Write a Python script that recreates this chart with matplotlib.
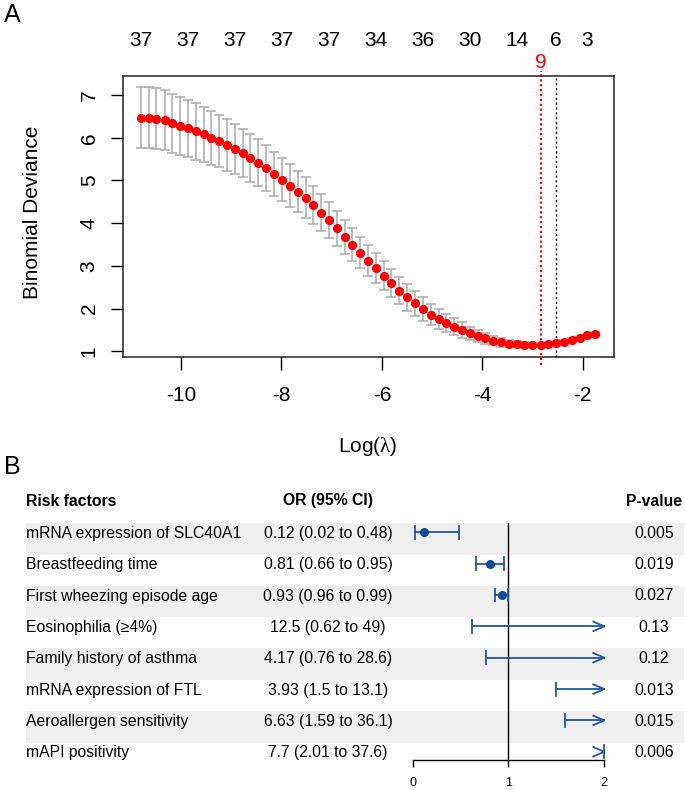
import matplotlib
matplotlib.use("Agg")
import matplotlib.pyplot as plt
from matplotlib.patches import Rectangle

plt.rcParams["font.family"] = ["Liberation Sans", "DejaVu Sans"]
plt.rcParams["axes.unicode_minus"] = False
plt.rcParams["mathtext.fontset"] = "custom"
plt.rcParams["mathtext.rm"] = "Liberation Serif"
plt.rcParams["mathtext.it"] = "Liberation Serif:italic"

W, H = 685, 790
def fx(x): return x / W
def fy(y): return 1 - y / H

# ---- panel A data: cv.glmnet curve -------------------------------------------------
loglam = [-10.80, -10.64, -10.49, -10.33, -10.18, -10.02, -9.86, -9.71, -9.55, -9.40,
          -9.24, -9.08, -8.93, -8.77, -8.62, -8.46, -8.30, -8.15, -7.99, -7.84,
          -7.68, -7.52, -7.37, -7.21, -7.06, -6.90, -6.74, -6.59, -6.43, -6.28,
          -6.12, -5.96, -5.81, -5.65, -5.50, -5.34, -5.18, -5.03, -4.87, -4.72,
          -4.56, -4.40, -4.25, -4.09, -3.94, -3.78, -3.62, -3.47, -3.31, -3.16,
          -3.00, -2.84, -2.69, -2.53, -2.38, -2.22, -2.06, -1.91, -1.75]
cvm = [6.47, 6.47, 6.45, 6.41, 6.34, 6.28, 6.22, 6.15, 6.08, 6.00,
       5.92, 5.83, 5.74, 5.64, 5.53, 5.42, 5.29, 5.15, 5.02, 4.88,
       4.74, 4.60, 4.43, 4.25, 4.07, 3.88, 3.68, 3.50, 3.31, 3.12,
       2.95, 2.77, 2.59, 2.42, 2.26, 2.12, 1.98, 1.86, 1.76, 1.66,
       1.58, 1.50, 1.42, 1.35, 1.30, 1.25, 1.21, 1.18, 1.16, 1.15,
       1.15, 1.15, 1.16, 1.19, 1.22, 1.27, 1.32, 1.37, 1.40]
cvsd = [0.71, 0.71, 0.71, 0.70, 0.69, 0.68, 0.67, 0.66, 0.64, 0.63,
        0.61, 0.60, 0.59, 0.57, 0.56, 0.54, 0.53, 0.52, 0.51, 0.50,
        0.48, 0.47, 0.45, 0.44, 0.42, 0.41, 0.40, 0.38, 0.37, 0.36,
        0.35, 0.34, 0.33, 0.32, 0.31, 0.30, 0.28, 0.25, 0.23, 0.21,
        0.20, 0.18, 0.16, 0.14, 0.13, 0.11, 0.10, 0.08, 0.07, 0.06,
        0.05, 0.05, 0.04, 0.04, 0.04, 0.04, 0.04, 0.04, 0.04]
top_pos = [-10.80, -9.86, -8.93, -7.99, -7.06, -6.12, -5.18, -4.25, -3.31, -2.53, -1.91]
top_nz = ["37", "37", "37", "37", "37", "34", "36", "30", "14", "6", "3"]
lam_min, lam_1se = -2.84, -2.53
nz_min = "9"

# ---- panel B data: forest plot ----------------------------------------------------
factors = ["mRNA expression of SLC40A1", "Breastfeeding time", "First wheezing episode age",
           "Eosinophilia (\u22654%)", "Family history of asthma", "mRNA expression of FTL",
           "Aeroallergen sensitivity", "mAPI positivity"]
or_est = [0.12, 0.81, 0.93, 12.5, 4.17, 3.93, 6.63, 7.7]
or_lo = [0.02, 0.66, 0.86, 0.62, 0.76, 1.5, 1.59, 2.01]
or_hi = [0.48, 0.95, 0.99, 49, 28.6, 13.1, 36.1, 37.6]
ci_text = ["0.12 (0.02 to 0.48)", "0.81 (0.66 to 0.95)", "0.93 (0.96 to 0.99)",
           "12.5 (0.62 to 49)", "4.17 (0.76 to 28.6)", "3.93 (1.5 to 13.1)",
           "6.63 (1.59 to 36.1)", "7.7 (2.01 to 37.6)"]
p_text = ["0.005", "0.019", "0.027", "0.13", "0.12", "0.013", "0.015", "0.006"]

fig = plt.figure(figsize=(W / 100, H / 100), dpi=100)

# background layer in pixel coordinates (bands + table text)
bg = fig.add_axes([0, 0, 1, 1], zorder=0)
bg.set_xlim(0, W); bg.set_ylim(H, 0); bg.axis("off")

# ---- panel A ---------------------------------------------------------------------
ax = fig.add_axes([fx(123), fy(357), (614 - 123) / W, (357 - 76) / H], zorder=2)
ax.errorbar(loglam, cvm, yerr=cvsd, fmt="none", ecolor="#a9a9a9", elinewidth=1.1,
            capsize=3.6, capthick=1.1, zorder=2)
ax.plot(loglam, cvm, "o", color="red", ms=5.6, mec="red", zorder=3)
ax.axvline(lam_1se, color="black", lw=1, ls=(0, (1.5, 2)), zorder=1)
ax.plot([lam_min, lam_min], [-0.028, 1.018], color="red", lw=1.6, ls=(0, (1, 1.2)),
        transform=ax.get_xaxis_transform(), clip_on=False, zorder=1)
ax.set_xlim(-11.157, -1.376)
ax.set_ylim(0.866, 7.447)
ax.set_xticks([-10, -8, -6, -4, -2])
ax.set_yticks([1, 2, 3, 4, 5, 6, 7])
ax.tick_params(direction="out", length=9, width=1, labelsize=15, top=False, right=False)
ax.tick_params(axis="x", pad=12)
ax.tick_params(axis="y", pad=8.5, labelrotation=90)
for lab in ax.get_yticklabels():
    lab.set_va("center")
for s in ax.spines.values():
    s.set_linewidth(1.1); s.set_color("#222222")
for x, s in zip(top_pos, top_nz):
    ax.text(x, 1.105, s, transform=ax.get_xaxis_transform(), ha="center", va="baseline",
            fontsize=15)
ax.text(lam_min, 1.030, nz_min, transform=ax.get_xaxis_transform(), ha="center",
        va="baseline", fontsize=15, color="red")
fig.text(fx(368), fy(447), "Log($\\mathrm{\\lambda}$)", ha="center", va="center", fontsize=15)
fig.text(fx(33), fy(212.5), "Binomial Deviance", rotation=90, ha="center", va="center",
         fontsize=15)
fig.text(fx(4), fy(15), "A", ha="left", va="center", fontsize=18)
fig.text(fx(4), fy(467), "B", ha="left", va="center", fontsize=18)

# ---- panel B: table --------------------------------------------------------------
row0, step = 532.3, 31.35
for i in range(len(factors)):
    c = row0 + step * i
    if i % 2 == 0:
        bg.add_patch(Rectangle((26, c - 9.3), 684 - 26, 31.5, color="#efefef", lw=0))
    bg.text(26, c + 5.5, factors[i], ha="left", va="baseline", fontsize=11.3)
    bg.text(328, c + 5.5, ci_text[i], ha="center", va="baseline", fontsize=11.3)
    bg.text(654, c + 5.5, p_text[i], ha="center", va="baseline", fontsize=11.3)
bg.text(26, 505.5, "Risk factors", ha="left", va="baseline", fontsize=11.3, fontweight="bold")
bg.text(328, 505.5, "OR (95% CI)", ha="center", va="baseline", fontsize=11.3, fontweight="bold")
bg.text(654, 505.5, "P-value", ha="center", va="baseline", fontsize=11.3, fontweight="bold")

# ---- panel B: forest -------------------------------------------------------------
fa = fig.add_axes([fx(412.7), fy(760), (604.3 - 412.7) / W, (760 - 523) / H], zorder=3)
fa.patch.set_alpha(0)
fa.set_xlim(0, 2)
fa.set_ylim(7.263, -0.297)
for s in ["top", "right", "left"]:
    fa.spines[s].set_visible(False)
fa.spines["bottom"].set_linewidth(1)
fa.set_xticks([0, 1, 2])
fa.set_yticks([])
fa.tick_params(axis="x", direction="out", length=5, width=1, labelsize=9, pad=7)
fa.axvline(1, color="black", lw=1)

LINE, DOT = "#2157a6", "#0d4b9b"
cap, aw, ah = 0.207, 0.115, 0.15
for i in range(len(factors)):
    lo, hi = min(or_lo[i], 2), min(or_hi[i], 2)
    fa.plot([lo, hi], [i, i], color=LINE, lw=1.3, clip_on=False)
    fa.plot([lo, lo], [i - cap, i + cap], color=LINE, lw=1.3, clip_on=False)
    if or_hi[i] <= 2:
        fa.plot([hi, hi], [i - cap, i + cap], color=LINE, lw=1.3, clip_on=False)
    else:
        fa.plot([2 - aw, 2, 2 - aw], [i - ah, i, i + ah], color=LINE, lw=1.3, clip_on=False)
    if or_est[i] <= 2:
        fa.plot(or_est[i], i, "o", color=DOT, ms=5.5, clip_on=False)

fig.savefig("out.png", dpi=100)
